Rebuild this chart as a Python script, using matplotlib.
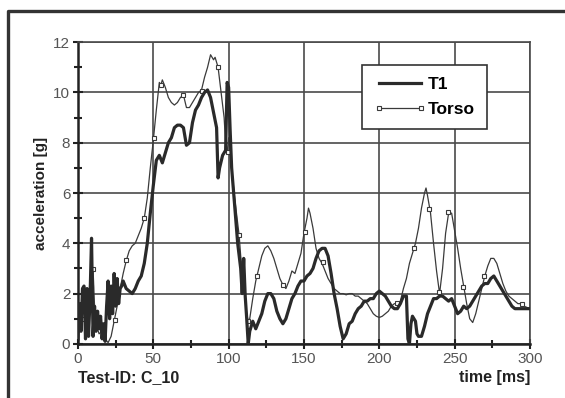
import matplotlib.pyplot as plt
import numpy as np
from matplotlib.lines import Line2D
from matplotlib.ticker import MultipleLocator

# T1 acceleration trace (time in ms, acceleration in g)
t1_time = [0, 1, 2, 3, 4, 5, 6, 7, 8, 9, 10, 11, 12, 13, 14, 15, 16, 17, 18, 19,
           20, 21, 22, 23, 24, 25, 26, 27, 28, 29, 30, 32, 34, 36, 38, 40, 42, 44,
           46, 48, 50, 52, 54, 56, 58, 60, 62, 64, 66, 68, 70, 72, 74, 76, 78, 80,
           82, 84, 86, 88, 90, 92, 93, 94, 96, 98, 99, 100, 101, 102, 104, 106,
           108, 109, 110, 111, 112, 113, 114, 116, 118, 120, 122, 124, 126, 128,
           130, 132, 134, 136, 138, 140, 142, 144, 146, 148, 150, 152, 154, 156,
           158, 160, 162, 164, 166, 168, 170, 172, 174, 176, 178, 180, 182, 184,
           186, 188, 190, 192, 194, 196, 198, 200, 202, 204, 206, 208, 210, 212,
           214, 216, 218, 219, 220, 221, 222, 224, 225, 226, 228, 230, 232, 234,
           236, 238, 240, 242, 244, 246, 248, 250, 252, 254, 256, 258, 260, 262,
           264, 266, 268, 270, 272, 274, 276, 278, 280, 282, 284, 286, 288, 290,
           292, 294, 296, 298, 300]
t1_acc = [0.2, 1.6, 0.5, 2.2, 2.3, 0.2, 2.2, 0.3, 1.8, 4.2, 0.3, 1.5, 0.5, 1.3,
          0.6, 1.1, 0.2, 0.8, 0.1, 1.5, 2.5, 1.0, 2.3, 1.2, 2.8, 1.5, 2.6, 1.6,
          2.2, 2.3, 2.5, 2.2, 2.1, 2.0, 2.2, 2.5, 2.7, 3.2, 4.0, 5.2, 6.3, 7.3,
          7.5, 7.2, 7.6, 8.0, 8.2, 8.6, 8.7, 8.7, 8.6, 7.9, 8.0, 8.8, 9.3, 9.5,
          9.8, 10.0, 10.1, 9.8, 9.2, 8.6, 6.6, 7.0, 7.5, 7.7, 10.4, 10.2, 8.5,
          7.0, 5.5, 4.0, 3.0, 2.0, 3.4, 1.9, 1.0, 0.0, 0.5, 0.9, 0.6, 0.9, 1.2,
          1.7, 2.0, 2.0, 1.8, 1.3, 1.0, 0.8, 1.0, 1.4, 1.8, 2.0, 2.3, 2.5, 2.5,
          2.7, 2.8, 3.0, 3.4, 3.7, 3.8, 3.8, 3.5, 2.8, 2.0, 1.4, 0.7, 0.2, 0.4,
          0.8, 0.9, 1.2, 1.4, 1.5, 1.7, 1.7, 1.8, 1.8, 2.0, 2.1, 2.0, 1.9, 1.7,
          1.5, 1.4, 1.4, 1.6, 1.9, 1.9, 0.2, 0.0, 0.8, 1.1, 0.9, 0.4, 0.3, 0.3,
          0.7, 1.2, 1.5, 1.8, 1.8, 1.9, 1.9, 1.8, 1.7, 1.8, 1.5, 1.2, 1.3, 1.5,
          1.4, 1.5, 1.7, 1.9, 2.1, 2.3, 2.4, 2.4, 2.6, 2.7, 2.5, 2.3, 2.1, 1.9,
          1.7, 1.5, 1.4, 1.4, 1.4, 1.4, 1.4, 1.4]

# Torso acceleration trace
torso_time = [0, 2, 4, 6, 8, 9, 10, 11, 12, 14, 16, 18, 20, 22, 24, 26, 28, 30,
              32, 34, 36, 38, 40, 42, 44, 46, 48, 50, 52, 54, 55, 56, 58, 60, 62,
              64, 66, 68, 70, 72, 74, 76, 78, 80, 82, 84, 86, 88, 90, 91, 93, 95,
              97, 98, 99, 100, 102, 104, 106, 107, 108, 110, 112, 113, 114, 116,
              118, 120, 122, 124, 126, 128, 130, 132, 134, 136, 138, 140, 142,
              144, 146, 148, 150, 152, 153, 154, 156, 158, 160, 162, 164, 166,
              168, 170, 172, 174, 176, 178, 180, 182, 184, 186, 188, 190, 192,
              194, 196, 198, 200, 202, 204, 206, 208, 210, 212, 214, 216, 218,
              220, 222, 224, 226, 228, 230, 231, 232, 234, 236, 238, 240, 242,
              244, 246, 248, 250, 252, 254, 256, 258, 260, 262, 264, 266, 268,
              270, 272, 274, 276, 278, 280, 282, 284, 286, 288, 290, 292, 294,
              296, 298, 300]
torso_acc = [0.3, 1.0, 1.0, 0.8, 2.2, 2.5, 3.0, 1.5, 0.8, 0.4, 0.5, 0.2, 0.05,
             0.3, 0.9, 1.5, 2.2, 2.8, 3.3, 3.7, 3.9, 4.0, 4.3, 4.6, 5.0, 5.8, 7.0,
             8.1, 9.3, 10.4, 10.3, 10.5, 10.2, 9.8, 9.6, 9.5, 9.6, 9.8, 9.9, 9.4,
             9.4, 9.6, 9.8, 10.0, 10.1, 10.6, 11.0, 11.5, 11.3, 11.4, 11.0, 10.0,
             9.0, 8.0, 7.6, 8.2, 7.0, 5.8, 4.8, 4.3, 3.5, 2.5, 1.2, 0.9, 1.0, 1.8,
             2.5, 3.0, 3.5, 3.8, 3.9, 3.7, 3.4, 3.0, 2.6, 2.35, 2.2, 2.5, 2.9,
             2.8, 3.2, 3.6, 4.4, 5.0, 5.4, 5.2, 4.6, 3.8, 3.4, 3.2, 2.9, 2.6, 2.4,
             2.2, 2.1, 2.0, 2.0, 1.95, 2.0, 2.0, 1.9, 1.9, 1.8, 1.7, 1.6, 1.4,
             1.2, 1.1, 1.05, 1.1, 1.2, 1.3, 1.5, 1.6, 1.6, 1.7, 2.2, 2.6, 3.2,
             3.6, 4.0, 4.6, 5.4, 6.0, 6.2, 5.9, 5.2, 4.0, 2.9, 2.0, 3.0, 4.4, 5.2,
             5.2, 4.5, 3.8, 3.0, 2.3, 1.6, 1.0, 0.85, 1.2, 1.7, 2.2, 2.7, 3.1,
             3.4, 3.4, 3.2, 2.8, 2.4, 2.1, 1.9, 1.8, 1.7, 1.6, 1.6, 1.5, 1.45, 1.4]

# Torso marker samples
mark_time = [4, 8.6, 9.8, 24.4, 31.8, 43.8, 50.5, 55, 69.6, 82, 93, 99.3, 107.2,
             113, 119.1, 135.9, 151, 162.7, 212, 223.2, 233.2, 239.5, 245.9,
             255.7, 269.6, 294.7]
mark_acc = [1.0, 2.25, 2.98, 0.93, 3.34, 5.0, 8.18, 10.28, 9.88, 10.07, 11.03,
            7.65, 4.34, 0.89, 2.68, 2.35, 4.44, 3.24, 1.62, 3.81, 5.37, 2.06,
            5.23, 2.28, 2.7, 1.59]

plt.rcParams["font.family"] = ["Liberation Sans", "DejaVu Sans"]

fig = plt.figure(figsize=(5.65, 3.98), dpi=100)
ax = fig.add_axes([0.138, 0.136, 0.800, 0.758])

line_col = "#2a2a2a"
grid_col = "#4a4a4a"

ax.plot(torso_time, torso_acc, color="#3a3a3a", lw=0.9, zorder=3)
ax.plot(mark_time, mark_acc, ls="none", marker="s", ms=3.3, mfc="white",
        mec="#3a3a3a", mew=0.8, zorder=4)
ax.plot(t1_time, t1_acc, color=line_col, lw=2.3, zorder=5)

ax.set_xlim(0, 300)
ax.set_ylim(0, 12)
ax.xaxis.set_major_locator(MultipleLocator(50))
ax.xaxis.set_minor_locator(MultipleLocator(25))
ax.yaxis.set_major_locator(MultipleLocator(2))
ax.yaxis.set_minor_locator(MultipleLocator(1))
ax.grid(True, which="major", color=grid_col, lw=1.2)
ax.set_axisbelow(True)
ax.tick_params(which="both", direction="inout", color="#222222", width=1.5,
               labelsize=11, labelcolor="#555555", pad=2)
ax.tick_params(which="major", length=7)
ax.tick_params(which="minor", length=6)
ax.spines["left"].set_linewidth(1.8)
ax.spines["bottom"].set_linewidth(1.8)
ax.spines["left"].set_color("#222222")
ax.spines["bottom"].set_color("#222222")
for s in ["top", "right"]:
    ax.spines[s].set_linewidth(1.2)
    ax.spines[s].set_color(grid_col)

ax.set_ylabel("acceleration [g]", fontsize=11, fontweight="bold",
              color="#222222", labelpad=4)

fig.text(0.138, 0.04, "Test-ID: C_10", fontsize=11.5, fontweight="bold",
         color="#222222", ha="left", va="baseline")
fig.text(0.938, 0.04, "time [ms]", fontsize=11.5, fontweight="bold",
         color="#222222", ha="right", va="baseline")

handles = [
    Line2D([], [], color=line_col, lw=2.3),
    Line2D([], [], color="#3a3a3a", lw=0.9, marker="s", ms=3, mfc="white",
           mec="#3a3a3a", mew=0.8),
]
leg = ax.legend(handles, ["T1", "Torso"], loc="upper left",
                bbox_to_anchor=(0.628, 0.925), fancybox=False, framealpha=1,
                edgecolor="#333333", prop={"weight": "bold", "size": 12.5},
                handlelength=3.0, handletextpad=0.1, borderpad=0.7,
                labelspacing=0.55, numpoints=2, borderaxespad=0)
leg.get_frame().set_linewidth(1.2)

# outer frame of the scanned figure (open at right and bottom)
fig.add_artist(Line2D([0.015, 0.015, 1.0], [0.0, 0.973, 0.973],
                      transform=fig.transFigure, color="#333333", lw=2.4))

fig.savefig("out.png", dpi=100)
